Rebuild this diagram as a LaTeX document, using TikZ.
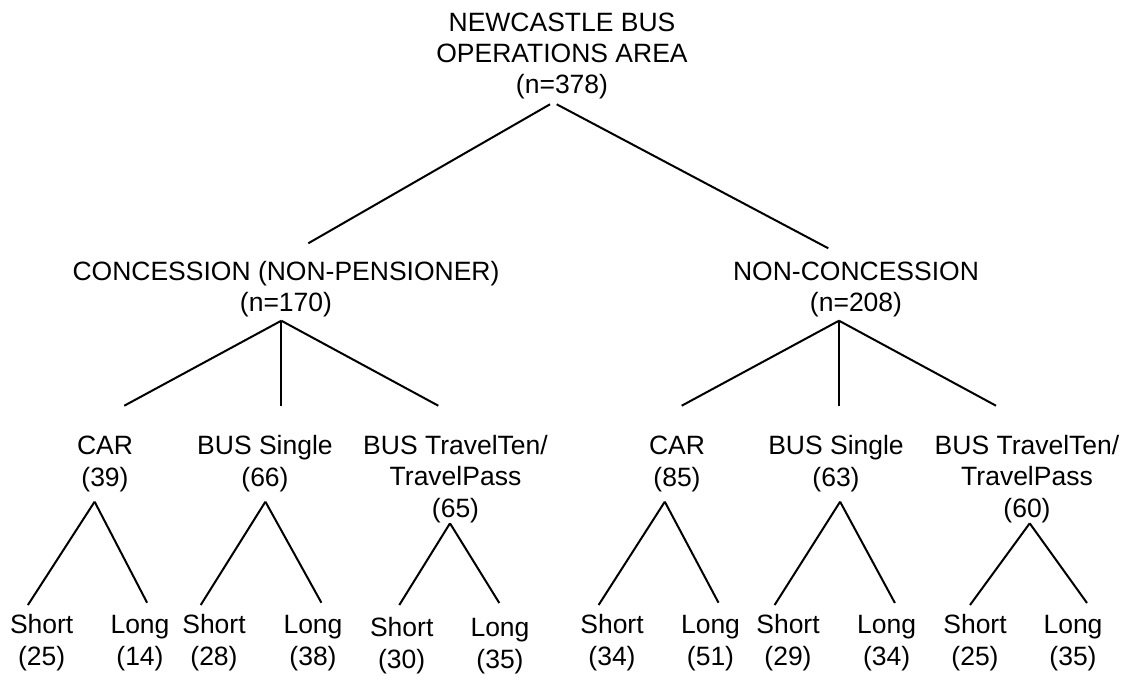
\documentclass[tikz,border=0pt]{standalone}
\usepackage{fontspec}
\setmainfont{Liberation Sans}
\begin{document}
\begin{tikzpicture}[x=1pt,y=-1pt,
  lbl/.style={anchor=base, align=center, inner sep=0pt, font=\fontsize{26.5}{#1}\selectfont},
  lbl/.default=31.7,
  edge/.style={line width=2pt, line cap=butt}]
\useasboundingbox (0,0) rectangle (1131,675);

% labels (anchor = baseline of last line)
\node[lbl=31] (root) at (562,93.7) {NEWCASTLE BUS\\OPERATIONS AREA\\(n=378)};
\node[lbl] (conc) at (286,311.7) {CONCESSION (NON-PENSIONER)\\(n=170)};
\node[lbl] (nonc) at (856,311.7) {NON-CONCESSION\\(n=208)};

\node[lbl=32] (car1) at (105,486.3) {CAR\\(39)};
\node[lbl=32] (bus1) at (265,486.3) {BUS Single\\(66)};
\node[lbl=31.5] (tt1) at (455.5,517.3) {BUS TravelTen/\\TravelPass\\(65)};
\node[lbl=32] (car2) at (677,486.3) {CAR\\(85)};
\node[lbl=32] (bus2) at (836,486.3) {BUS Single\\(63)};
\node[lbl=31.5] (tt2) at (1027,517.3) {BUS TravelTen/\\TravelPass\\(60)};

\node[lbl=32] (s1) at (41.7,665.3) {Short\\(25)};
\node[lbl=32] (l1) at (140,665.3) {Long\\(14)};
\node[lbl=32] (s2) at (214,665.3) {Short\\(28)};
\node[lbl=32] (l2) at (313,665.3) {Long\\(38)};
\node[lbl=32] (s3) at (401.7,668.7) {Short\\(30)};
\node[lbl=32] (l3) at (500,668.7) {Long\\(35)};
\node[lbl=32] (s4) at (612,665.3) {Short\\(34)};
\node[lbl=32] (l4) at (710.5,665.3) {Long\\(51)};
\node[lbl=32] (s5) at (788,665.3) {Short\\(29)};
\node[lbl=32] (l5) at (886.7,665.3) {Long\\(34)};
\node[lbl=32] (s6) at (975,665.3) {Short\\(25)};
\node[lbl=32] (l6) at (1073,665.3) {Long\\(35)};

% connector end points
\coordinate (rootL) at (550,104.3);
\coordinate (rootR) at (556.7,104.3);
\coordinate (concT) at (308.3,243.3);
\coordinate (noncT) at (828.3,248.3);

\coordinate (concB) at (281.3,320.7);
\coordinate (noncB) at (839,320.7);
\coordinate (car1T) at (124.3,405.7);
\coordinate (bus1T) at (281.3,405.7);
\coordinate (tt1T) at (438.3,405.7);
\coordinate (car2T) at (681.7,405.7);
\coordinate (bus2T) at (839,405.7);
\coordinate (tt2T) at (996,405.7);

\coordinate (car1B) at (94.6,501.7);
\coordinate (bus1B) at (265.4,501.7);
\coordinate (tt1B) at (450,523.3);
\coordinate (car2B) at (664.8,501.7);
\coordinate (bus2B) at (840.1,501.7);
\coordinate (tt2B) at (1029.7,523.3);

\coordinate (s1T) at (27.9,605);   \coordinate (l1T) at (147.1,602.7);
\coordinate (s2T) at (200.7,605);  \coordinate (l2T) at (321.4,602.7);
\coordinate (s3T) at (399.3,605);  \coordinate (l3T) at (499.3,603);
\coordinate (s4T) at (598.6,605);  \coordinate (l4T) at (718.5,602.7);
\coordinate (s5T) at (774.6,605);  \coordinate (l5T) at (894.9,603);
\coordinate (s6T) at (970,605);    \coordinate (l6T) at (1087,603);

% connectors
\draw[edge] (rootL) -- (concT);
\draw[edge] (rootR) -- (noncT);

\draw[edge] (concB) -- (car1T);
\draw[edge] (concB) -- (bus1T);
\draw[edge] (concB) -- (tt1T);
\draw[edge] (noncB) -- (car2T);
\draw[edge] (noncB) -- (bus2T);
\draw[edge] (noncB) -- (tt2T);

\draw[edge] (car1B) -- (s1T);
\draw[edge] (car1B) -- (l1T);
\draw[edge] (bus1B) -- (s2T);
\draw[edge] (bus1B) -- (l2T);
\draw[edge] (tt1B) -- (s3T);
\draw[edge] (tt1B) -- (l3T);
\draw[edge] (car2B) -- (s4T);
\draw[edge] (car2B) -- (l4T);
\draw[edge] (bus2B) -- (s5T);
\draw[edge] (bus2B) -- (l5T);
\draw[edge] (tt2B) -- (s6T);
\draw[edge] (tt2B) -- (l6T);
\end{tikzpicture}
\end{document}
